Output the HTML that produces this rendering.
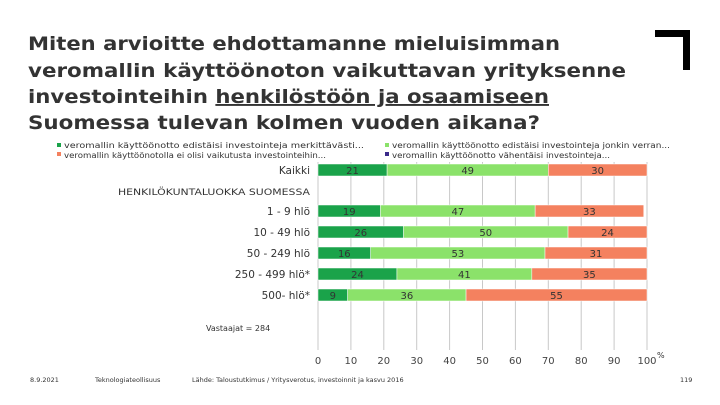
<!DOCTYPE html>
<html><head><meta charset="utf-8"><style>
html,body{margin:0;padding:0;background:#fff;width:720px;height:405px;overflow:hidden}
svg{display:block;font-family:"DejaVu Sans","Liberation Sans",sans-serif}
</style></head><body>
<svg id="chart" width="720" height="405">
<g font-weight="bold" font-size="19" fill="#333">
<text x="28" y="50" textLength="532" lengthAdjust="spacingAndGlyphs">Miten arvioitte ehdottamanne mieluisimman</text>
<text x="28" y="77" textLength="598" lengthAdjust="spacingAndGlyphs">veromallin käyttöönoton vaikuttavan yrityksenne</text>
<text x="28" y="103" textLength="521" lengthAdjust="spacingAndGlyphs">investointeihin <tspan text-decoration="underline">henkilöstöön ja osaamiseen</tspan></text>
<text x="28" y="129" textLength="512" lengthAdjust="spacingAndGlyphs">Suomessa tulevan kolmen vuoden aikana?</text>
</g>
<path d="M655 30H690V70H683V37H655Z" fill="#000"/>
<g font-size="8" fill="#333">
<g><rect x="57" y="143" width="4" height="4" fill="#1aa34a"/><text x="64" y="148" textLength="300" lengthAdjust="spacingAndGlyphs">veromallin käyttöönotto edistäisi investointeja merkittävästi...</text></g>
<g><rect x="385" y="143" width="4" height="4" fill="#8be26a"/><text x="392" y="148" textLength="278" lengthAdjust="spacingAndGlyphs">veromallin käyttöönotto edistäisi investointeja jonkin verran...</text></g>
<g><rect x="57" y="152" width="4" height="4" fill="#f4815f"/><text x="64" y="158" textLength="262" lengthAdjust="spacingAndGlyphs">veromallin käyttöönotolla ei olisi vaikutusta investointeihin...</text></g>
<g><rect x="385" y="152" width="4" height="4" fill="#3a2a8a"/><text x="392" y="158" textLength="218" lengthAdjust="spacingAndGlyphs">veromallin käyttöönotto vähentäisi investointeja...</text></g>
</g>
<g id="grid"></g>
<g id="bars"></g>
<g id="labels" font-size="10.5" fill="#333"></g>
<text x="310" y="195" font-size="9" fill="#333" text-anchor="end" textLength="192" lengthAdjust="spacingAndGlyphs">HENKILÖKUNTALUOKKA SUOMESSA</text>
<text x="206" y="331" font-size="8" fill="#333">Vastaajat = 284</text>
<g id="ticks" font-size="10" fill="#444"></g>
<text x="657" y="358" font-size="8" fill="#333">%</text>
<g font-size="6.5" fill="#333">
<text x="30" y="382">8.9.2021</text>
<text x="95" y="382">Teknologiateollisuus</text>
<text x="192" y="382">Lähde: Taloustutkimus / Yritysverotus, investoinnit ja kasvu 2016</text>
<text x="680" y="382">119</text>
</g>
</svg>
<script>
const categories=["Kaikki","1 - 9 hlö","10 - 49 hlö","50 - 249 hlö","250 - 499 hlö*","500- hlö*"];
const significant=[21,19,26,16,24,9];
const somewhat=[49,47,50,53,41,36];
const noEffect=[30,33,24,31,35,55];
const tickLabels=[0,10,20,30,40,50,60,70,80,90,100];
const rowY=[170,211,232,253,274,295];
const NS="http://www.w3.org/2000/svg";
const x=v=>318+v*3.29;
function mk(t,a,p){const e=document.createElementNS(NS,t);for(const k in a)e.setAttribute(k,a[k]);p.appendChild(e);return e;}
const grid=document.getElementById('grid'),bars=document.getElementById('bars'),labels=document.getElementById('labels'),ticks=document.getElementById('ticks');
tickLabels.forEach(t=>{
 const l=mk('line',{x1:x(t),x2:x(t),y1:162,y2:350,stroke:'#c8c8c8','stroke-width':1},grid);
 
 
 const tx=mk('text',{x:x(t),y:364,'text-anchor':'middle'},ticks);
 tx.textContent=t;
 
 
});
const series=[[significant,'#1aa34a','significant'],[somewhat,'#8be26a','somewhat'],[noEffect,'#f4815f','no-effect']];
categories.forEach((c,i)=>{
 const cy=rowY[i];
 const lb=mk('text',{x:310,y:cy+4,'text-anchor':'end'},labels);
 lb.textContent=c;
 
 
 let acc=0;
 series.forEach(([arr,col,nm])=>{
  const v=arr[i];
  const r=mk('rect',{x:x(acc),y:cy-6,width:x(acc+v)-x(acc),height:12,fill:col,stroke:'#fff','stroke-width':0.5},bars);
  
  
  const t=mk('text',{x:(x(acc)+x(acc+v))/2,y:cy+4,'text-anchor':'middle','font-size':10,fill:'#333'},bars);
  t.textContent=v;
  
  
  acc+=v;
 });
});
</script>
</body></html>
